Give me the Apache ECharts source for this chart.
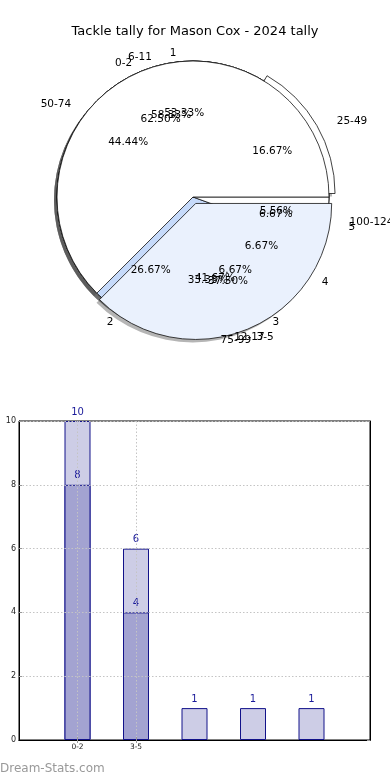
<!DOCTYPE html>
<html><head><meta charset="utf-8">
<script src="https://cdn.jsdelivr.net/npm/echarts@6/dist/echarts.min.js"></script>
<style>html,body{margin:0;padding:0;background:#fff}#c{width:390px;height:780px}</style>
</head><body><div id="c"></div>
<script>
// ---------- data ----------
const chartTitle = 'Tackle tally for Mason Cox - 2024 tally';
const pieANames = ['1', '2', '3', '4', '5'];
const pieAValues = [8, 4, 1, 1, 1];
const pieDNames = ['6-11', '12-17'];
const pieDValues = [7, 5];
const pieCNames = ['25-49', '50-74', '75-99', '100-124'];
const pieCValues = [3, 8, 6, 1];
const pieBNames = ['0-2', '3-5'];
const pieBValues = [10, 6];
const barCategories = ['0-2', '3-5', '', '', ''];
const barTotals = [10, 6, 1, 1, 1];
const barParts = [8, 4, null, null, null];
const yTickValues = [0, 2, 4, 6, 8, 10];
const watermark = 'Dream-Stats.com';

// ---------- style ----------
const FONT = 'DejaVu Sans';
const CX = 193, CY = 197, R = 136, EXPLODE = 7, SHX = -3, SHY = 3;
const LABEL_RX = 159, LABEL_RY = 145;           // outer label distances (horizontal / vertical)
const WHITE = '#ffffff', PALE = '#eaf1fd', MID = '#c6dafa', EDGE = '#111';
const SHADOW = 'rgba(70,70,70,0.4)';
const TRANSP = 'rgba(0,0,0,0)';

const pies = [
  { names: pieANames, values: pieAValues, colors: [WHITE, MID, WHITE, WHITE, WHITE], explode: null },
  { names: pieDNames, values: pieDValues, colors: [WHITE, MID], explode: null },
  { names: pieCNames, values: pieCValues, colors: [WHITE, WHITE, MID, WHITE], explode: 0 },
  { names: pieBNames, values: pieBValues, colors: [WHITE, PALE], explode: 1 }
];

function midAngles(values) {
  const total = values.reduce((a, b) => a + b, 0);
  let acc = 0;
  return values.map(v => { const m = (acc + v / 2) / total * 2 * Math.PI; acc += v; return m; });
}

function groupsOf(pie) {
  const all = pie.values.map((_, i) => i);
  if (pie.explode == null) return [{ idx: all, off: [0, 0] }];
  const mid = midAngles(pie.values)[pie.explode];
  return [
    { idx: all.filter(i => i !== pie.explode), off: [0, 0] },
    { idx: [pie.explode], off: [EXPLODE * Math.cos(mid), -EXPLODE * Math.sin(mid)] }
  ];
}

function makePie(pie, showIdx, center, kind, z) {
  const total = pie.values.reduce((a, b) => a + b, 0);
  const mids = midAngles(pie.values);
  const s = {
    type: 'pie', z: z, silent: true, animation: false, clockwise: false, startAngle: 0,
    center: center, radius: kind === 'pct' ? [0.2 * R, R] : [0, R],
    avoidLabelOverlap: false, emphasis: { disabled: true },
    labelLayout: { hideOverlap: false },
    labelLine: { show: false, length: LABEL_RY - R, length2: 0 },
    label: { show: false },
    data: pie.values.map((v, i) => {
      const on = showIdx.includes(i);
      const item = { name: pie.names[i], value: v, label: { show: false } };
      if (kind === 'shadow') item.itemStyle = { color: on ? SHADOW : TRANSP, borderWidth: 0 };
      else if (kind === 'wedge') item.itemStyle = on ? { color: pie.colors[i], borderColor: EDGE, borderWidth: 0.8 } : { color: TRANSP, borderWidth: 0 };
      else {
        item.itemStyle = { color: TRANSP, borderWidth: 0 };
        item.label = { show: on };
        if (kind === 'name') item.labelLine = { show: false, length: LABEL_RY - R, length2: (LABEL_RX - LABEL_RY) * Math.abs(Math.cos(mids[i])) };
      }
      return item;
    })
  };
  if (kind === 'pct') s.label = { show: true, position: 'inside', formatter: p => (p.value / total * 100).toFixed(2) + '%', fontFamily: FONT, fontSize: 10.5, color: '#000' };
  if (kind === 'name') s.label = { show: true, position: 'outside', formatter: '{b}', distanceToLabelLine: 0, fontFamily: FONT, fontSize: 10.5, color: '#000' };
  return s;
}

const series = [];
['shadow', 'wedge', 'pct', 'name'].forEach((kind) => {
  pies.forEach(pie => {
    groupsOf(pie).forEach(g => {
      let c = [CX + g.off[0], CY + g.off[1]];
      if (kind === 'shadow') c = [c[0] + SHX, c[1] + SHY];
      series.push(makePie(pie, g.idx, c, kind, kind === 'shadow' ? 1 : (kind === 'wedge' ? 2 : 10)));
    });
  });
});

// ---------- bars ----------
const xCats = [''].concat(barCategories).concat(['']);
const pad = a => [null].concat(a).concat([null]);
const showTick = (i) => xCats[i] !== '';
const barLabel = { show: true, position: 'top', distance: 4, color: '#1a1a99', fontFamily: FONT, fontSize: 10 };
series.push({
  type: 'bar', xAxisIndex: 0, yAxisIndex: 0, data: pad(barTotals), barWidth: 26, z: 2,
  itemStyle: { color: '#cdcde6', borderColor: '#12128a', borderWidth: 1 },
  label: barLabel, animation: false, silent: true
});
series.push({
  type: 'bar', xAxisIndex: 0, yAxisIndex: 0, data: pad(barParts), barWidth: 26, barGap: '-100%', z: 2,
  itemStyle: { color: '#a3a3d1', borderColor: '#12128a', borderWidth: 1 },
  label: barLabel, animation: false, silent: true
});

const gridLine = { show: true, lineStyle: { color: '#c4c4c4', type: [1.5, 2], width: 1 } };
const frameLine = { show: true, lineStyle: { color: '#000', width: 1 } };
const option = {
  backgroundColor: '#fff',
  animation: false,
  title: { text: chartTitle, left: 'center', top: 20, textStyle: { fontFamily: FONT, fontSize: 13, fontWeight: 'normal', color: '#000' } },
  grid: { left: 19, right: 20, top: 421, bottom: 40, show: true, borderColor: '#000', borderWidth: 1, containLabel: false, outerBoundsMode: 'none' },
  xAxis: [
    { type: 'category', data: xCats, boundaryGap: false, z: 3,
      axisLine: frameLine,
      axisTick: { show: true, inside: true, length: 3, interval: (i) => showTick(i), lineStyle: { color: '#999' } },
      axisLabel: { show: true, interval: 0, margin: 3, fontFamily: FONT, fontSize: 7.5, color: '#222' },
      splitLine: Object.assign({ interval: (i) => showTick(i) }, gridLine) },
    { type: 'category', data: xCats, boundaryGap: false, position: 'top', z: 4,
      axisLine: frameLine, axisLabel: { show: false }, splitLine: { show: false },
      axisTick: { show: true, inside: true, length: 3, interval: (i) => showTick(i), lineStyle: { color: '#999' } } }
  ],
  yAxis: [
    { type: 'value', min: yTickValues[0], max: yTickValues[yTickValues.length - 1], interval: 2, z: 3,
      axisLine: frameLine,
      axisTick: { show: true, inside: true, length: 3, lineStyle: { color: '#999' } },
      axisLabel: { margin: 3, fontFamily: FONT, fontSize: 8, color: '#222' },
      splitLine: gridLine },
    { type: 'value', min: yTickValues[0], max: yTickValues[yTickValues.length - 1], interval: 2, position: 'right', z: 4,
      axisLine: frameLine, axisLabel: { show: false }, splitLine: { show: false },
      axisTick: { show: true, inside: true, length: 3, lineStyle: { color: '#999' } } }
  ],
  graphic: [{ type: 'text', left: 0, top: 763, style: { text: watermark, fontFamily: FONT, fontSize: 12, fill: '#999' } }],
  series: series
};
const chart = echarts.init(document.getElementById('c'), null, { renderer: 'canvas' });
chart.setOption(option);
</script></body></html>
